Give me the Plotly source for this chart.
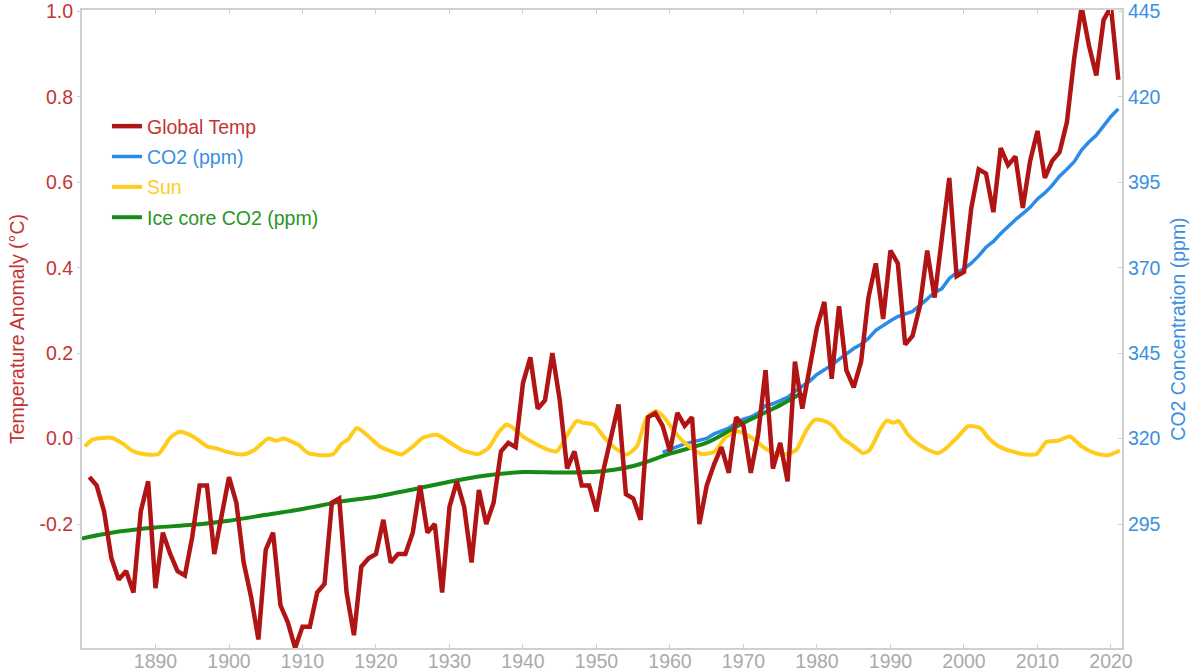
import plotly.graph_objects as go

# ---------------- data ----------------
temp_years = list(range(1881, 2022))
temp_anomaly = [
    -0.09, -0.11, -0.17, -0.28, -0.33, -0.31, -0.36, -0.17, -0.10,          # 1881-1889
    -0.35, -0.22, -0.27, -0.31, -0.32, -0.23, -0.11, -0.11, -0.27, -0.18,   # 1890s
    -0.09, -0.15, -0.29, -0.37, -0.47, -0.26, -0.22, -0.39, -0.43, -0.49,   # 1900s
    -0.44, -0.44, -0.36, -0.34, -0.15, -0.14, -0.36, -0.46, -0.30, -0.28,   # 1910s
    -0.27, -0.19, -0.29, -0.27, -0.27, -0.22, -0.11, -0.22, -0.20, -0.36,   # 1920s
    -0.16, -0.10, -0.16, -0.29, -0.12, -0.20, -0.15, -0.03, -0.01, -0.02,   # 1930s
    0.13, 0.19, 0.07, 0.09, 0.20, 0.09, -0.07, -0.03, -0.11, -0.11,         # 1940s
    -0.17, -0.07, 0.01, 0.08, -0.13, -0.14, -0.19, 0.05, 0.06, 0.03,        # 1950s
    -0.03, 0.06, 0.03, 0.05, -0.20, -0.11, -0.06, -0.02, -0.08, 0.05,       # 1960s
    0.03, -0.08, 0.01, 0.16, -0.07, -0.01, -0.10, 0.18, 0.07, 0.16,         # 1970s
    0.26, 0.32, 0.14, 0.31, 0.16, 0.12, 0.18, 0.33, 0.41, 0.28,             # 1980s
    0.44, 0.41, 0.22, 0.24, 0.31, 0.44, 0.33, 0.47, 0.61, 0.38,             # 1990s
    0.39, 0.54, 0.63, 0.62, 0.53, 0.68, 0.64, 0.66, 0.54, 0.65,             # 2000s
    0.72, 0.61, 0.65, 0.67, 0.74, 0.89, 1.01, 0.92, 0.85, 0.98,             # 2010s
    1.01, 0.84,                                                             # 2020-2021
]

co2_years = list(range(1959, 2022))
co2_ppm = [
    315.98, 316.91, 317.64, 318.45, 318.99, 319.62, 320.04, 321.37, 322.18, 323.05,
    324.62, 325.68, 326.32, 327.46, 329.68, 330.19, 331.13, 332.03, 333.84, 335.41,
    336.84, 338.76, 340.12, 341.48, 343.15, 344.87, 346.35, 347.61, 349.31, 351.69,
    353.20, 354.45, 355.70, 356.54, 357.21, 358.96, 360.97, 362.74, 363.88, 366.84,
    368.54, 369.71, 371.32, 373.45, 375.98, 377.70, 379.98, 382.09, 384.02, 385.83,
    387.64, 390.10, 391.85, 394.06, 396.74, 398.81, 401.01, 404.41, 406.76, 408.72,
    411.66, 414.24, 416.45,
]

ice_years = [1880, 1885, 1890, 1895, 1900, 1905, 1910, 1915, 1920, 1925, 1930,
             1935, 1940, 1945, 1950, 1955, 1960, 1965, 1970, 1975, 1978]
ice_ppm = [290.8, 292.8, 294.0, 294.8, 296.0, 297.7, 299.4, 301.5, 303.0, 305.1, 307.4,
           309.2, 310.2, 310.1, 310.3, 312.0, 315.6, 318.8, 324.6, 329.8, 333.4]

sun_years = [
    1880.4, 1881.5, 1884.0, 1885.4, 1887.0, 1888.8, 1890.4, 1892.0, 1893.3, 1895.1,
    1897.0, 1898.3, 1899.7, 1901.9, 1903.5, 1905.3, 1906.5, 1907.4, 1909.4, 1910.8,
    1913.1, 1914.2, 1915.3, 1916.2, 1917.4, 1919.0, 1920.5, 1922.1, 1923.5, 1924.9,
    1926.4, 1928.3, 1930.5, 1931.9, 1933.9, 1935.3, 1936.6, 1937.8, 1938.5, 1940.0,
    1941.9, 1943.4, 1944.6, 1945.9, 1947.3, 1948.2, 1949.6, 1951.2, 1952.5, 1954.1,
    1955.5, 1956.8, 1958.0, 1959.1, 1960.4, 1962.0, 1964.3, 1966.1, 1967.5, 1969.3,
    1971.1, 1972.9, 1974.7, 1975.9, 1977.2, 1978.6, 1979.7, 1980.9, 1982.2, 1983.4,
    1984.7, 1986.3, 1987.2, 1988.6, 1989.5, 1990.4, 1991.1, 1992.4, 1993.6, 1995.1,
    1996.5, 1997.6, 1999.2, 2000.6, 2002.2, 2003.3, 2004.7, 2006.5, 2008.3, 2009.9,
    2011.2, 2012.8, 2014.4, 2016.0, 2017.8, 2019.6, 2021.2,
]
sun_level = [
    -0.018, -0.002, 0.002, -0.010, -0.030, -0.037, -0.036, 0.002, 0.016, 0.005,
    -0.018, -0.023, -0.031, -0.037, -0.026, 0.000, -0.005, 0.000, -0.014, -0.034,
    -0.039, -0.036, -0.012, -0.002, 0.025, 0.005, -0.018, -0.030, -0.037, -0.020,
    0.002, 0.009, -0.014, -0.028, -0.036, -0.022, 0.013, 0.033, 0.027, 0.005,
    -0.014, -0.026, -0.030, 0.005, 0.041, 0.037, 0.033, 0.000, -0.022, -0.037,
    -0.018, 0.048, 0.064, 0.052, 0.021, -0.010, -0.036, -0.030, 0.002, 0.017,
    0.002, -0.022, -0.037, -0.036, -0.026, 0.021, 0.044, 0.042, 0.029, 0.002,
    -0.014, -0.034, -0.026, 0.021, 0.042, 0.037, 0.041, 0.009, -0.010, -0.026,
    -0.034, -0.022, 0.005, 0.029, 0.025, 0.002, -0.018, -0.030, -0.037, -0.036,
    -0.008, -0.005, 0.005, -0.018, -0.034, -0.039, -0.028,
]

x_ticks = list(range(1890, 2021, 10))
temp_ticks = [-0.2, 0.0, 0.2, 0.4, 0.6, 0.8, 1.0]
temp_tick_text = ["-0.2", "0.0", "0.2", "0.4", "0.6", "0.8", "1.0"]
co2_ticks = [295, 320, 345, 370, 395, 420, 445]

# ---------------- style ----------------
RED = "#b01414"
RED_TXT = "#c43434"
BLUE = "#2a8be8"
BLUE_TXT = "#3a90e0"
GOLD = "#ffcc1c"
GREEN = "#168a16"
GREEN_TXT = "#2a942a"
FRAME = "#d0d0d0"
FONT = "Liberation Sans, Arial, Helvetica, sans-serif"
FS = 19.5

temp_range = [-0.49, 1.003]
# right axis is a linear map of the left one: 0.0 -> 320 ppm, 1.0 -> 445 ppm
co2_range = [320 + 125 * temp_range[0], 320 + 125 * temp_range[1]]


def legend_label(text, color):
    return f"<span style='color:{color}'>{text}</span>"


fig = go.Figure()

fig.add_trace(go.Scatter(
    x=co2_years, y=co2_ppm, yaxis="y", mode="lines",
    line=dict(color=BLUE, width=3.5),
    name=legend_label("CO2 (ppm)", BLUE_TXT), legendrank=2, legendgroup="b",
))
fig.add_trace(go.Scatter(
    x=ice_years, y=ice_ppm, yaxis="y", mode="lines",
    line=dict(color=GREEN, width=4, shape="spline", smoothing=0.8),
    name=legend_label("Ice core CO2 (ppm)", GREEN_TXT), legendrank=4, legendgroup="d",
))
fig.add_trace(go.Scatter(
    x=sun_years, y=sun_level, yaxis="y2", mode="lines",
    line=dict(color=GOLD, width=4, shape="spline", smoothing=0.6),
    name=legend_label("Sun", GOLD), legendrank=3, legendgroup="c",
))
fig.add_trace(go.Scatter(
    x=temp_years, y=temp_anomaly, yaxis="y2", mode="lines",
    line=dict(color=RED, width=4.5),
    name=legend_label("Global Temp", RED_TXT), legendrank=1, legendgroup="a",
))

fig.update_layout(
    width=1196, height=672,
    margin=dict(l=82, r=74, t=10, b=24, autoexpand=False),
    paper_bgcolor="white", plot_bgcolor="white",
    font=dict(family=FONT, size=FS),
    showlegend=True,
    legend=dict(
        x=0.024, y=0.848, xanchor="left", yanchor="top",
        bgcolor="rgba(0,0,0,0)", font=dict(size=FS),
        tracegroupgap=2, itemclick=False,
    ),
    xaxis=dict(
        range=[1880, 2021.5], tickvals=x_ticks, automargin=False,
        showgrid=False, zeroline=False,
        showline=True, linecolor=FRAME, linewidth=2, mirror="ticks",
        ticks="inside", ticklen=4, tickcolor=FRAME,
        ticklabelstandoff=-5, ticklabeloverflow="allow",
        tickfont=dict(color="#aaaaaa", size=FS),
    ),
    yaxis=dict(
        side="right", range=co2_range, tickvals=co2_ticks, automargin=False,
        showgrid=False, zeroline=False,
        showline=True, linecolor=FRAME, linewidth=2,
        ticks="inside", ticklen=4, tickcolor=FRAME,
        ticklabeloverflow="allow",
        tickfont=dict(color=BLUE_TXT, size=FS),
        title=dict(text="CO2 Concentration (ppm)", font=dict(color=BLUE_TXT, size=FS),
                   standoff=12),
    ),
    yaxis2=dict(
        overlaying="y", side="left", anchor="x", automargin=False,
        range=temp_range, tickvals=temp_ticks, ticktext=temp_tick_text,
        showgrid=False, zeroline=False,
        showline=True, linecolor=FRAME, linewidth=2,
        ticks="outside", ticklen=3, tickcolor=FRAME,
        ticklabeloverflow="allow",
        tickfont=dict(color=RED_TXT, size=FS),
        title=dict(text="Temperature Anomaly (°C)", font=dict(color=RED_TXT, size=FS),
                   standoff=10),
    ),
)

fig.write_html("out.html")
